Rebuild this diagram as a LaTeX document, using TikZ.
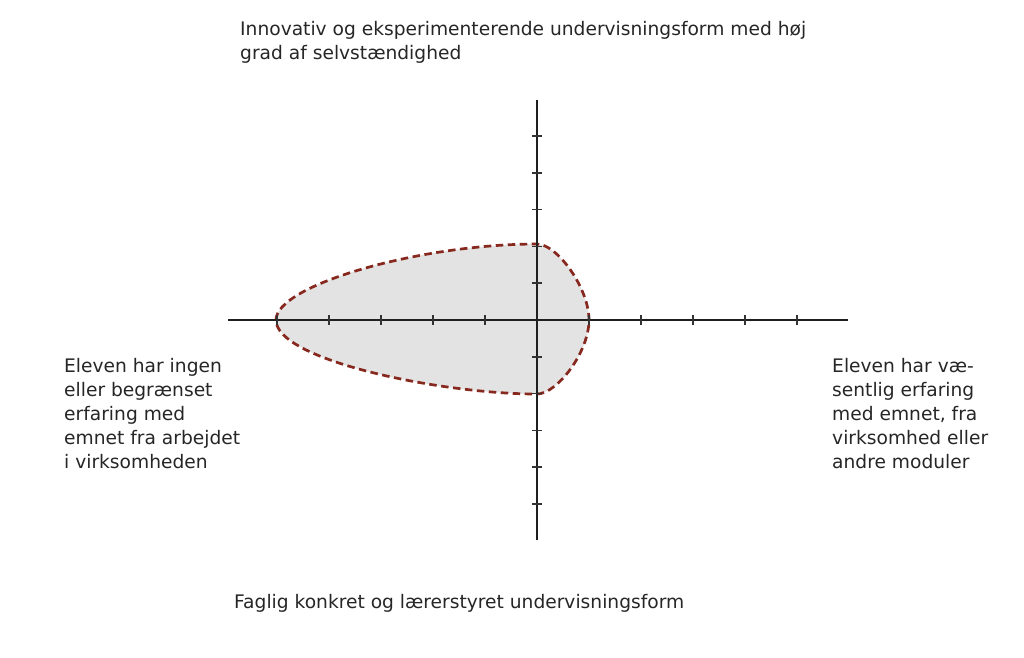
\documentclass[tikz,border=0pt]{standalone}
\usepackage{fontspec}
\setmainfont{DejaVu Sans}
\begin{document}
\begin{tikzpicture}[x=1pt,y=-1pt,
  axis/.style={line width=2.4pt,draw=black!88},
  tick/.style={line width=1.5pt,draw=black!80},
  zone/.style={fill=black!11,draw={rgb,255:red,135;green,40;blue,30},line width=2.7pt,dash pattern=on 7.5pt off 4.5pt},
  label/.style={inner sep=0pt,anchor=north west,align=left,text=black!85,font=\fontsize{18.65}{24}\selectfont}]
\useasboundingbox (0,0) rectangle (1024,657);
\coordinate (O) at (537,320);
\coordinate (xl) at (228,320);
\coordinate (xr) at (848,320);
\coordinate (yt) at (537,100);
\coordinate (yb) at (537,540);
% zone
\draw[zone] (276,320) .. controls (276,285) and (420,244) .. (537,244)
  .. controls (557,244) and (589,288) .. (589,320)
  .. controls (589,352) and (557,394) .. (537,394)
  .. controls (440,394) and (276,360) .. (276,320) -- cycle;
% axes
\draw[axis] (xl) -- (xr);
\draw[axis] (yt) -- (yb);
\foreach \k in {-5,-4,-3,-2,-1,1,2,3,4,5}{
  \draw[tick] ([shift={(52*\k,-5)}]O) -- ([shift={(52*\k,5)}]O);
  \draw[tick] ([shift={(-5,36.8*\k)}]O) -- ([shift={(5,36.8*\k)}]O);
}
\node[label] (top) at (240,21) {Innovativ og eksperimenterende undervisningsform med høj\\grad af selvstændighed};
\node[label] (left) at (64,358) {Eleven har ingen\\eller begrænset\\erfaring med\\emnet fra arbejdet\\i virksomheden};
\node[label] (right) at (832,358) {Eleven har væ-\\sentlig erfaring\\med emnet, fra\\virksomhed eller\\andre moduler};
\node[label] (bottom) at (234,594) {Faglig konkret og lærerstyret undervisningsform};
\end{tikzpicture}
\end{document}
